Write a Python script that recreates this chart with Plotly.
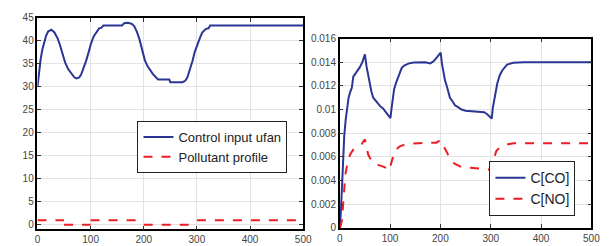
import plotly.graph_objects as go

# Left panel: control input ufan and pollutant profile
ufan_t = [0, 3, 6, 9, 12, 16, 20, 26, 32, 38, 42, 47, 52, 58, 64, 69, 73, 78, 82, 87, 92, 97, 101, 106, 110, 116, 120, 124,
          159, 163, 170, 177, 182, 187, 192, 196, 202, 207, 212, 217, 221, 227, 248, 250, 273, 278, 282, 287, 292, 296, 301,
          306, 310, 317, 322, 325, 500]
ufan_v = [30.0, 33.5, 36.0, 38.0, 39.5, 41.0, 42.0, 42.4, 41.8, 40.5, 39.2, 37.3, 35.3, 33.8, 32.8, 32.1, 31.8, 32.0, 32.6, 34.0,
          35.8, 37.8, 39.5, 41.0, 41.8, 42.7, 42.8, 43.3, 43.3, 43.8, 43.9, 43.7, 43.2, 42.0, 40.3, 38.5, 35.8, 34.5, 33.5, 32.8,
          32.3, 31.6, 31.6, 31.0, 31.0, 31.3, 32.0, 33.8, 35.7, 37.6, 39.3, 40.7, 41.8, 42.6, 42.7, 43.3, 43.3]

# step profile, segments separated by None (no vertical connectors, as in the reference)
poll_t = [0, 50, None, 50, 100, None, 100, 200, None, 200, 300, None, 300, 500]
poll_v = [1, 1, None, 0, 0, None, 1, 1, None, 0, 0, None, 1, 1]

# Right panel: concentrations
co_t = [0, 1, 3, 6, 9, 12, 14, 17.6, 21, 24, 27, 30, 34, 40, 45, 50, 53.4, 57, 60, 63, 66.6, 71, 76, 81, 86, 91, 95.4, 100.7,
        103, 105, 108, 111.7, 118, 123, 128, 137.7, 147, 157, 170, 180, 187, 193, 200.6, 203, 206, 209, 212.8, 219, 224, 229,
        235, 242, 250, 261, 275, 287, 293, 297, 302, 304, 307, 313, 318, 322.8, 332.5, 345, 365, 500]
co_v = [0.0, 0.0004, 0.002, 0.005, 0.0078, 0.0092, 0.0100, 0.0110, 0.0115, 0.01184, 0.01278, 0.01295, 0.01318, 0.01358,
        0.0140, 0.01466, 0.0136, 0.0128, 0.0121, 0.0115, 0.0110, 0.01075, 0.0105, 0.01025, 0.0101, 0.0098, 0.00955, 0.00928,
        0.0101, 0.0110, 0.0117, 0.01224, 0.01305, 0.0135, 0.01372, 0.0139, 0.01397, 0.0140, 0.0140, 0.0139, 0.0141, 0.0144,
        0.0148, 0.0139, 0.01305, 0.0125, 0.01197, 0.0110, 0.0107, 0.01036, 0.0102, 0.0100, 0.0099, 0.00987, 0.0098, 0.00977,
        0.0096, 0.00942, 0.00924, 0.0101, 0.0109, 0.0122, 0.0129, 0.0133, 0.0138, 0.01395, 0.0140, 0.0140]

no_t = [0, 2, 4.6, 7.8, 11, 15.6, 20.8, 27, 37, 44, 50, 53, 56.5, 63, 70, 76, 89, 99, 102.6, 106, 109, 118.6, 131, 157,
        183.6, 192, 200, 204, 209, 214, 219, 229, 242, 255, 268, 294, 300, 303, 307, 311, 316.6, 329, 345.5, 500]
no_v = [0.0, 0.0002, 0.0007, 0.00285, 0.00446, 0.00554, 0.0062, 0.00662, 0.00694, 0.0071, 0.00748, 0.0068, 0.0062,
        0.00567, 0.0055, 0.00533, 0.00514, 0.00487, 0.0055, 0.0060, 0.00648, 0.00688, 0.00708, 0.00716, 0.00716, 0.0072,
        0.00742, 0.0071, 0.00675, 0.0063, 0.00581, 0.0054, 0.00514, 0.0051, 0.00506, 0.00496, 0.00487, 0.0053, 0.00608,
        0.0065, 0.00675, 0.00702, 0.00716, 0.00716]

x_ticks = [0, 100, 200, 300, 400, 500]
left_y_ticks = [0, 5, 10, 15, 20, 25, 30, 35, 40, 45]
right_y_ticks = [0, 0.002, 0.004, 0.006, 0.008, 0.01, 0.012, 0.014, 0.016]
right_y_labels = ["0", "0.002", "0.004", "0.006", "0.008", "0.01", "0.012", "0.014", "0.016"]

BLUE = "#2b3595"
RED = "#ed1c24"

fig = go.Figure()
fig.add_trace(go.Scatter(x=ufan_t, y=ufan_v, mode="lines", name="Control input ufan",
                         line=dict(color=BLUE, width=2), xaxis="x", yaxis="y", legend="legend"))
fig.add_trace(go.Scatter(x=poll_t, y=poll_v, mode="lines", name="Pollutant profile", connectgaps=False,
                         line=dict(color=RED, width=2, dash="dash"), xaxis="x", yaxis="y", legend="legend"))
fig.add_trace(go.Scatter(x=co_t, y=co_v, mode="lines", name="C[CO]",
                         line=dict(color=BLUE, width=2), xaxis="x2", yaxis="y2", legend="legend2"))
fig.add_trace(go.Scatter(x=no_t, y=no_v, mode="lines", name="C[NO]",
                         line=dict(color=RED, width=2, dash="dash"), xaxis="x2", yaxis="y2", legend="legend2"))

W, H = 612, 246
axis_common = dict(showline=True, linecolor="black", linewidth=1.5, mirror="ticks", ticks="inside", ticklen=4,
                   tickcolor="#333", showgrid=True, gridcolor="#e3e3e3", gridwidth=1, zeroline=False,
                   tickfont=dict(family="Liberation Sans, Arial", size=10, color="#444"))

fig.update_layout(
    width=W, height=H,
    margin=dict(l=0, r=0, t=0, b=0),
    paper_bgcolor="white", plot_bgcolor="white",
    xaxis=dict(domain=[27 / W, 298 / W], range=[0, 500], tickvals=x_ticks, anchor="y", **axis_common),
    yaxis=dict(domain=[(H - 226.5) / H, (H - 5) / H], range=[-1, 45], tickvals=left_y_ticks, anchor="x", **axis_common),
    xaxis2=dict(domain=[335.3 / W, 592 / W], range=[0, 500], tickvals=x_ticks, anchor="y2", **axis_common),
    yaxis2=dict(domain=[(H - 225) / H, (H - 26.7) / H], range=[0, 0.016], tickvals=right_y_ticks,
                ticktext=right_y_labels, anchor="x2", **axis_common),
    legend=dict(x=129 / W, y=(H - 113) / H, xanchor="left", yanchor="top", bgcolor="white",
                bordercolor="#222", borderwidth=1, font=dict(family="Liberation Sans, Arial", size=13, color="#222"),
                itemwidth=30, tracegroupgap=0),
    legend2=dict(x=488 / W, y=(H - 155) / H, xanchor="left", yanchor="top", bgcolor="white",
                 bordercolor="#222", borderwidth=1, font=dict(family="Liberation Sans, Arial", size=14, color="#222"),
                 itemwidth=30, tracegroupgap=0),
    showlegend=True,
)

fig.write_html("out.html")
